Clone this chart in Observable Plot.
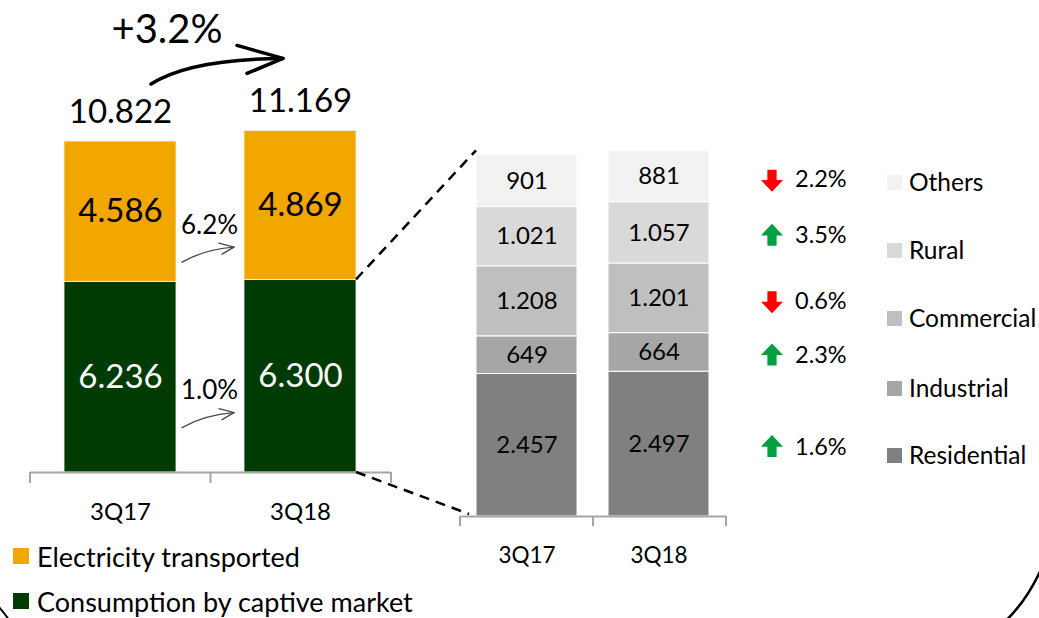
<!DOCTYPE html>
<html><head><meta charset="utf-8">
<script src="https://cdn.jsdelivr.net/npm/d3@7"></script>
<script src="https://cdn.jsdelivr.net/npm/@observablehq/plot@0.6"></script>
<style>
body{margin:0;background:#fff;font-family:Lato, "Open Sans", sans-serif;}
#wrap{position:relative;width:1039px;height:618px;overflow:hidden;background:#fff;}
#wrap > svg, #wrap > div{position:absolute;}
.lg{display:flex;align-items:center;white-space:nowrap;color:#000;line-height:1;}
.lg span.sw{display:inline-block;}
</style></head><body><div id="wrap"></div>
<script>
// ---------- data ----------
const quarters = ["3Q17", "3Q18"];
const mainSeries = ["Consumption by captive market", "Electricity transported"];
const captive = [6.236, 6.300];
const transported = [4.586, 4.869];
const totals = [10.822, 11.169];
const mainChange = ["1.0%", "6.2%"];          // captive, transported
const totalChange = "+3.2%";
const mainColors = ["#003b04", "#f2a600"];

const classes = ["Residential", "Industrial", "Commercial", "Rural", "Others"];
const class3Q17 = [2457, 649, 1208, 1021, 901];
const class3Q18 = [2497, 664, 1201, 1057, 881];
const classChange = [1.6, 2.3, -0.6, 3.5, -2.2];
const classColors = ["#808080", "#a6a6a6", "#bfbfbf", "#d9d9d9", "#f2f2f2"];

// ---------- helpers ----------
const fmt3 = d3.format(".3f");
const fmtK = v => d3.format(",")(v).replace(/,/g, ".");
function stackRows(series, matrix) {
  const rows = [];
  quarters.forEach((q, qi) => {
    let acc = 0;
    series.forEach((s, si) => {
      const v = matrix[si][qi];
      rows.push({quarter: q, series: s, si, value: v, y1: acc, y2: acc + v, mid: acc + v / 2});
      acc += v;
    });
  });
  return rows;
}
const leftRows = stackRows(mainSeries, [captive, transported]);
const totalRows = quarters.map((q, i) => ({quarter: q, total: totals[i]}));
const rightRows = stackRows(classes, classes.map((c, i) => [class3Q17[i], class3Q18[i]]));
const changeRows = rightRows.filter(d => d.quarter === "3Q18").map(d => ({...d, change: classChange[d.si]}));

function blockArrow(dir) {
  return {
    draw(ctx, size) {
      const r = Math.sqrt(size / Math.PI);
      const s = dir; // -1 up, 1 down
      const stem = r * 0.42, base = r * 0.05;
      ctx.moveTo(0, s * r);
      ctx.lineTo(r, -s * base);
      ctx.lineTo(stem, -s * base);
      ctx.lineTo(stem, -s * r);
      ctx.lineTo(-stem, -s * r);
      ctx.lineTo(-stem, -s * base);
      ctx.lineTo(-r, -s * base);
      ctx.closePath();
    }
  };
}
const upArrow = blockArrow(-1), downArrow = blockArrow(1);
const FONT = "Lato, 'Open Sans', sans-serif";

// ---------- left chart ----------
const left = Plot.plot({
  width: 440, height: 530,
  marginLeft: 30, marginRight: 49, marginTop: 105, marginBottom: 58,
  style: {fontFamily: FONT, background: "transparent", overflow: "visible", color: "#000"},
  x: {domain: quarters, paddingInner: 0.376, paddingOuter: 0.188, axis: null},
  y: {domain: [0, 12], axis: null},
  color: {domain: mainSeries, range: mainColors},
  marks: [
    Plot.barY(leftRows, {x: "quarter", y1: "y1", y2: "y2", fill: "series", stroke: "#f4f4f4", strokeWidth: 0.8}),
    Plot.text(leftRows.filter(d => d.si === 0), {x: "quarter", y: "mid", text: d => fmt3(d.value), fill: "white", fontSize: 33}),
    Plot.text(leftRows.filter(d => d.si === 1), {x: "quarter", y: "mid", text: d => fmt3(d.value), fill: "black", fontSize: 33}),
    Plot.text(totalRows, {x: "quarter", y: "total", text: d => fmt3(d.total), dy: -29, fontSize: 33, lineAnchor: "middle"}),
    Plot.text(leftRows.filter(d => d.quarter === quarters[0]), {x: "quarter", y: "mid", text: d => mainChange[d.si], dx: 89, dy: 14, fontSize: 26}),
    Plot.text([totalChange], {frameAnchor: "top", dx: -44, dy: -75, fontSize: 40, lineAnchor: "middle"}),
    Plot.ruleY([0], {stroke: "#a6a6a6", strokeWidth: 2}),
    Plot.text(quarters, {x: d => d, y: () => 0, dy: 40, fontSize: 24})
  ]
});
left.style.left = "0px"; left.style.top = "0px";

// ---------- right chart ----------
const right = Plot.plot({
  width: 599, height: 575,
  marginLeft: 20, marginRight: 313, marginTop: 110, marginBottom: 59,
  style: {fontFamily: FONT, background: "transparent", overflow: "visible", color: "#000"},
  x: {domain: quarters, paddingInner: 0.233, paddingOuter: 0.12, axis: null},
  y: {domain: [0, 7000], axis: null},
  color: {domain: classes, range: classColors},
  marks: [
    Plot.barY(rightRows, {x: "quarter", y1: "y1", y2: "y2", fill: "series", stroke: "white", strokeWidth: 1}),
    Plot.text(rightRows, {x: "quarter", y: "mid", text: d => fmtK(d.value), fontSize: 24}),
    Plot.dot(changeRows.filter(d => d.change >= 0), {x: "quarter", y: "mid", symbol: upArrow, r: 11, fill: "#00a040", stroke: "none", dx: 113, dy: 2}),
    Plot.dot(changeRows.filter(d => d.change < 0), {x: "quarter", y: "mid", symbol: downArrow, r: 11, fill: "#ff0000", stroke: "none", dx: 113, dy: 4}),
    Plot.text(changeRows, {x: "quarter", y: "mid", text: d => Math.abs(d.change).toFixed(1) + "%", dx: 136, dy: 3, textAnchor: "start", fontSize: 23.5}),
    Plot.ruleY([0], {stroke: "#a6a6a6", strokeWidth: 2}),
    Plot.text(quarters, {x: d => d, y: () => 0, dy: 39, fontSize: 22.5})
  ]
});
right.style.left = "440px"; right.style.top = "0px";

const wrap = document.getElementById("wrap");
wrap.appendChild(left);
wrap.appendChild(right);

// ---------- legends ----------
function legend(items, colors, x, ys, sw, gap, fs) {
  items.forEach((t, i) => {
    const d = document.createElement("div");
    d.className = "lg";
    d.style.left = x + "px";
    d.style.top = (ys[i] - 13) + "px";
    d.style.height = "26px";
    d.style.fontSize = fs + "px";
    d.innerHTML = `<span class="sw" style="width:${sw}px;height:${sw}px;background:${colors[i]};margin-right:${gap}px"></span><span>${t}</span>`;
    wrap.appendChild(d);
  });
}
legend([mainSeries[1], mainSeries[0]], [mainColors[1], mainColors[0]], 13, [556, 601], 16, 8, 27);
legend(classes.slice().reverse(), classColors.slice().reverse(), 887, [182, 250, 318, 388, 455], 15, 7, 24.5);

// ---------- overlay decorations (positions from the plot scales) ----------
const lx = left.scale("x"), ly = left.scale("y");
const rx = right.scale("x"), ry = right.scale("y");
const RX = v => 440 + rx.apply(v);
const svg = d3.select(wrap).append("svg")
  .attr("width", 1039).attr("height", 618)
  .style("left", "0px").style("top", "0px").style("pointer-events", "none");

// axis ticks at category boundaries
function ticks(scale, off, y0, len) {
  const [a, b] = scale.range;
  const n = scale.domain.length;
  for (let i = 0; i <= n; i++) {
    const x = off + a + (b - a) * i / n;
    svg.append("line").attr("x1", x).attr("x2", x).attr("y1", y0).attr("y2", y0 + len)
      .attr("stroke", "#a6a6a6").attr("stroke-width", 2);
  }
}
ticks(lx, 0, ly.apply(0), 11);
ticks(rx, 440, ry.apply(0), 10);

// dashed zoom lines
const lbw = lx.bandwidth;
const xr = lx.apply(quarters[1]) + lbw;
svg.append("line").attr("x1", xr).attr("y1", ly.apply(captive[1]))
  .attr("x2", RX(quarters[0])).attr("y2", ry.apply(6236) - 4)
  .attr("stroke", "#000").attr("stroke-width", 2.5).attr("stroke-dasharray", "10,7");
svg.append("line").attr("x1", xr).attr("y1", ly.apply(0))
  .attr("x2", RX(quarters[0]) - 7).attr("y2", ry.apply(0) - 2)
  .attr("stroke", "#000").attr("stroke-width", 2.5).attr("stroke-dasharray", "10,7");

// curved arrows
function arrow(x0, y0, cx, cy, x1, y1, a1, a2, w, color) {
  svg.append("path").attr("d", `M${x0},${y0}Q${cx},${cy} ${x1},${y1}`)
    .attr("fill", "none").attr("stroke", color).attr("stroke-width", w).attr("stroke-linecap", "round");
  svg.append("path").attr("d", `M${x1 + a1[0]},${y1 + a1[1]}L${x1},${y1}L${x1 + a2[0]},${y1 + a2[1]}`)
    .attr("fill", "none").attr("stroke", color).attr("stroke-width", w)
    .attr("stroke-linecap", "round").attr("stroke-linejoin", "round");
}
const c0 = lx.apply(quarters[0]) + lbw / 2, c1 = lx.apply(quarters[1]) + lbw / 2;
// big total arrow
arrow(c0 + 31, ly.apply(totals[0]) - 57, c0 + 70, ly.apply(totals[0]) - 82,
      c1 - 17, ly.apply(totals[1]) - 72, [-46, -13], [-36, 15], 3.5, "#000");
// small arrows between bars
const gapC = (lx.apply(quarters[0]) + lbw + lx.apply(quarters[1])) / 2;
leftRows.filter(d => d.quarter === quarters[0]).forEach(d => {
  const y = ly.apply(d.mid);
  arrow(gapC - 28, y + 51, gapC - 5, y + 38, gapC + 24, y + 36, [-15, -4], [-12, 7], 1.4, "#4a4a4a");
});

// frame corners of the slide box
svg.append("path").attr("d", "M1000,626 Q1028,602 1045,560").attr("fill", "none").attr("stroke", "#000").attr("stroke-width", 2.5);
svg.append("path").attr("d", "M-4,604 Q3,611 9,620").attr("fill", "none").attr("stroke", "#000").attr("stroke-width", 2);
</script></body></html>
